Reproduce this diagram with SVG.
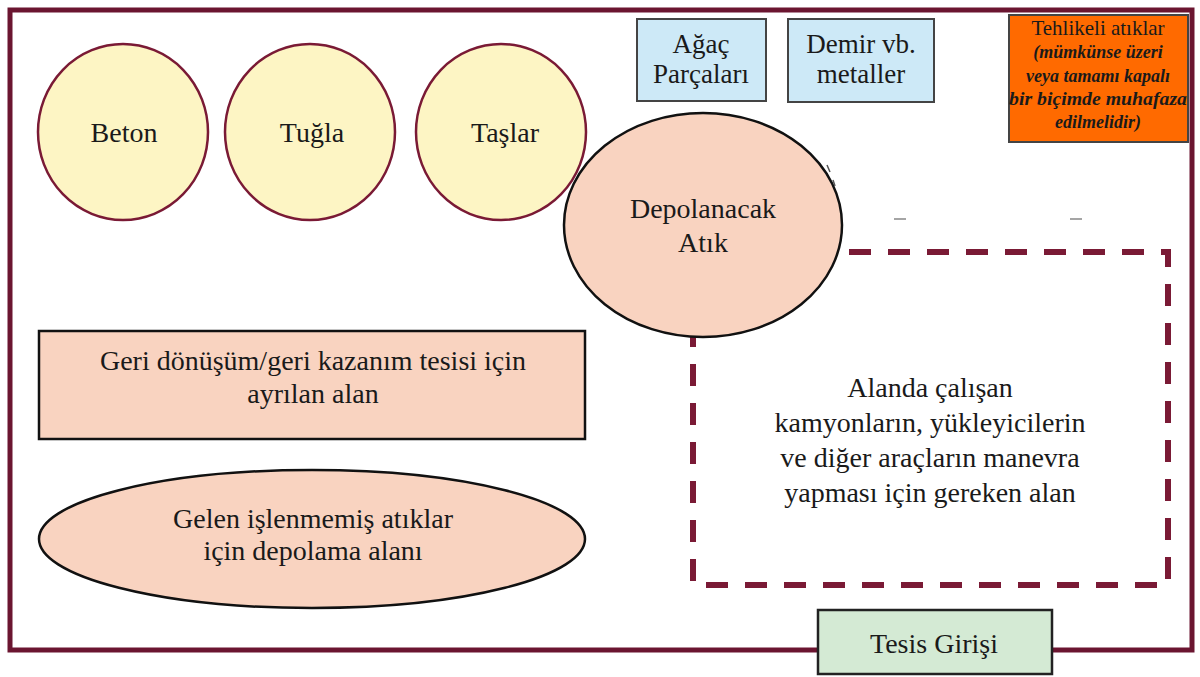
<svg xmlns="http://www.w3.org/2000/svg" width="1200" height="677" viewBox="0 0 1200 677">
<style>
text{font-family:'Liberation Serif','Times New Roman',serif;fill:#1a1a1a;text-anchor:middle}
.t28{font-size:28px}
.t27{font-size:27px}
.bi{font-style:italic;font-weight:bold;font-size:18px}
.t21{font-size:21px}
.yc{fill:#fdf5c4;stroke:#7a1a35;stroke-width:2.5}
.peach{fill:#f9d3c0;stroke:#111;stroke-width:2.5}
.blue{fill:#cde9f7;stroke:#444;stroke-width:2}
</style>
<rect x="0" y="0" width="1200" height="677" fill="#ffffff"/>
<g id="frame">
<rect x="10" y="10" width="1182" height="640" fill="none" stroke="#6b1530" stroke-width="5"/>
</g>
<g id="maneuver-area">
<rect x="693" y="252" width="475" height="333" fill="none" stroke="#7a1a35" stroke-width="6" stroke-dasharray="22 17"/>
<text class="t28" x="930" y="397">Alanda çalışan</text>
<text class="t28" x="930" y="432">kamyonların, yükleyicilerin</text>
<text class="t28" x="930" y="467">ve diğer araçların manevra</text>
<text class="t28" x="930" y="502">yapması için gereken alan</text>
</g>
<g id="beton"><ellipse class="yc" cx="123" cy="132" rx="85" ry="88"/><text class="t28" x="124" y="142">Beton</text></g>
<g id="tugla"><ellipse class="yc" cx="310" cy="132" rx="85" ry="88"/><text class="t28" x="312" y="142">Tuğla</text></g>
<g id="taslar"><ellipse class="yc" cx="501" cy="132" rx="85" ry="88"/><text class="t28" x="505" y="142">Taşlar</text></g>
<g id="depolanacak"><ellipse class="peach" cx="703" cy="225" rx="139" ry="112"/><text class="t28" x="703" y="218">Depolanacak</text><text class="t28" x="703" y="252">Atık</text></g>
<g id="agac"><rect class="blue" x="637" y="19" width="129" height="82"/><text class="t27" x="701" y="53">Ağaç</text><text class="t27" x="701" y="83">Parçaları</text></g>
<g id="demir"><rect class="blue" x="788" y="19" width="146" height="83"/><text class="t27" x="861" y="53">Demir vb.</text><text class="t27" x="861" y="83">metaller</text></g>
<g id="tehlikeli">
<rect x="1009" y="15" width="179" height="127" fill="#ff6a00" stroke="#444" stroke-width="2"/>
<text class="t21" x="1098" y="35">Tehlikeli atıklar</text>
<text class="bi" x="1098" y="58">(mümkünse üzeri</text>
<text class="bi" x="1098" y="82">veya tamamı kapalı</text>
<text class="bi" x="1098" y="105" textLength="178" lengthAdjust="spacingAndGlyphs">bir biçimde muhafaza</text>
<text class="bi" x="1098" y="128">edilmelidir)</text>
</g>
<g id="geri-donusum"><rect class="peach" x="39" y="331" width="546" height="108"/><text class="t28" x="313" y="370">Geri dönüşüm/geri kazanım tesisi için</text><text class="t28" x="313" y="403">ayrılan alan</text></g>
<g id="gelen"><ellipse class="peach" cx="312" cy="539" rx="273" ry="69"/><text class="t28" x="313" y="528">Gelen işlenmemiş atıklar</text><text class="t28" x="313" y="560">için depolama alanı</text></g>
<g id="tesis-girisi"><rect x="818" y="610" width="234" height="64" fill="#d4ead4" stroke="#222" stroke-width="2.5"/><text class="t28" x="934" y="653">Tesis Girişi</text></g>
<g id="connectors" stroke="#888" stroke-width="1.5" fill="none">
<path d="M894 219 H906 M1070 219 H1082"/>
<path d="M827 165 L830 172 M833 180 L835 186" stroke="#555"/>
</g>
</svg>
